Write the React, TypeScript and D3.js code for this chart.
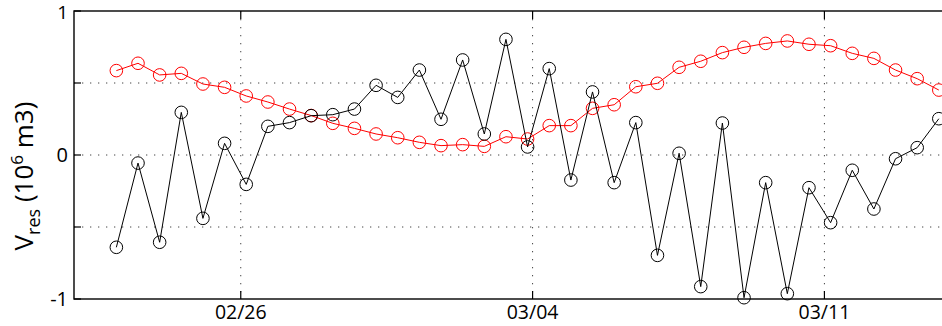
import React from "react";
import * as d3 from "d3";

// Residual volume per tidal cycle (10^6 m3)
const observed = [
  -0.641, -0.056, -0.606, 0.296, -0.44, 0.081, -0.204, 0.199, 0.225, 0.273,
  0.28, 0.319, 0.484, 0.4, 0.59, 0.248, 0.66, 0.146, 0.803, 0.056,
  0.6, -0.174, 0.438, -0.192, 0.225, -0.697, 0.012, -0.914, 0.222, -0.991,
  -0.192, -0.963, -0.227, -0.47, -0.106, -0.375, -0.026, 0.051, 0.252,
];
const smoothed = [
  0.586, 0.637, 0.556, 0.567, 0.493, 0.47, 0.41, 0.368, 0.319, 0.274,
  0.22, 0.185, 0.146, 0.12, 0.088, 0.065, 0.072, 0.06, 0.127, 0.111,
  0.204, 0.204, 0.324, 0.349, 0.474, 0.498, 0.609, 0.651, 0.711, 0.748,
  0.775, 0.792, 0.769, 0.759, 0.706, 0.671, 0.59, 0.53, 0.451,
];
const firstCycle = new Date(2012, 1, 23, 0, 23);
const cycleHours = 12.46;
const xTickDates = [new Date(2012, 1, 26), new Date(2012, 2, 4), new Date(2012, 2, 11)];
const yTicks = [-1, -0.5, 0, 0.5, 1];
const yLabelled = [-1, 0, 1];

const W = 942;
const H = 326;
const left = 74;
const top = 11;
const bottom = 299;
const font = "'Open Sans', sans-serif";

export default function App() {
  const x = d3
    .scaleTime()
    .domain([new Date(2012, 1, 22), new Date(2012, 2, 16)])
    .range([left, left + 23 * 41.69]);
  const y = d3.scaleLinear().domain([-1, 1]).range([bottom, top]);
  const right = x.range()[1];

  const times = observed.map((_, i) => new Date(firstCycle.getTime() + i * cycleHours * 3600e3));
  const line = d3
    .line<number>()
    .x((_, i) => x(times[i]))
    .y((d) => y(d));

  const fmt = d3.timeFormat("%m/%d");

  return (
    <svg
      width={W}
      height={H}
      style={{ position: "absolute", left: 0, top: 0, background: "#fff" }}
    >
      {/* grid */}
      {yTicks
        .filter((t) => t > -1 && t < 1)
        .map((t) => (
          <line key={"gy" + t} x1={left} x2={right} y1={y(t)} y2={y(t)}
            stroke="#444" strokeWidth={1} strokeDasharray="1.3 6.7" />
        ))}
      {xTickDates.map((d, i) => (
        <line key={"gx" + i} x1={x(d)} x2={x(d)} y1={top} y2={bottom}
          stroke="#444" strokeWidth={1} strokeDasharray="1.3 6.7" />
      ))}

      {/* ticks */}
      {xTickDates.map((d, i) => (
        <g key={"tx" + i}>
          <line x1={x(d)} x2={x(d)} y1={bottom} y2={bottom - 8} stroke="#000" strokeWidth={1.2} />
          <line x1={x(d)} x2={x(d)} y1={top} y2={top + 8} stroke="#000" strokeWidth={1.2} />
          <text x={x(d)} y={319} textAnchor="middle" fontFamily={font} fontSize={19.5} fill="#000">
            {fmt(d)}
          </text>
        </g>
      ))}
      {yTicks.map((t) => (
        <line key={"ty" + t} x1={left} x2={left + 7} y1={y(t)} y2={y(t)} stroke="#000" strokeWidth={1.2} />
      ))}
      {yLabelled.map((t) => (
        <text key={"ly" + t} x={68} y={t === 1 ? y(t) + 8 : y(t) + 7} textAnchor="end"
          fontFamily={font} fontSize={t === 1 ? 19 : 20} fill="#000">
          {t}
        </text>
      ))}

      {/* series */}
      <path d={line(smoothed) || ""} fill="none" stroke="#ff0000" strokeWidth={1} />
      {smoothed.map((v, i) => (
        <circle key={"r" + i} cx={x(times[i])} cy={y(v)} r={6.3} fill="none" stroke="#ff0000" strokeWidth={1} />
      ))}
      <path d={line(observed) || ""} fill="none" stroke="#000" strokeWidth={1} />
      {observed.map((v, i) => (
        <circle key={"k" + i} cx={x(times[i])} cy={y(v)} r={6.3} fill="none" stroke="#000" strokeWidth={1} />
      ))}

      {/* frame */}
      <rect x={left} y={top} width={right - left} height={bottom - top} fill="none" stroke="#000" strokeWidth={1.4} />

      {/* y-axis title */}
      <text
        transform={`translate(33, 176) rotate(-90)`}
        textAnchor="middle"
        fontFamily={font}
        fontSize={26}
        fill="#000"
      >
        V<tspan fontSize={18} dy={7}>res</tspan>
        <tspan dy={-7}> (10</tspan>
        <tspan fontSize={17} dy={-10}>6</tspan>
        <tspan dy={10}> m3)</tspan>
      </text>
    </svg>
  );
}
